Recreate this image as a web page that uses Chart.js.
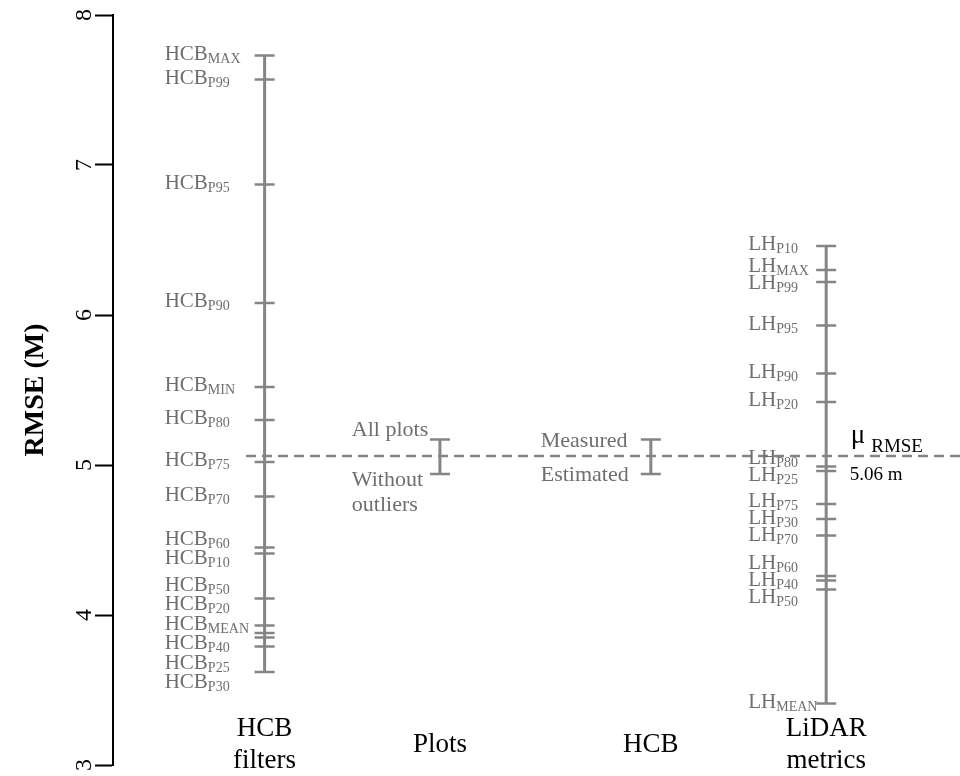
<!DOCTYPE html>
<html><head><meta charset="utf-8">
<script src="https://cdn.jsdelivr.net/npm/chart.js@4.4.1/dist/chart.umd.min.js"></script>
<style>html,body{margin:0;padding:0;background:#fff;overflow:hidden;} #wrap{width:960px;height:776px;position:relative;} canvas{display:block;}</style>
</head><body><div id="wrap"><canvas id="c"></canvas></div>
<script>
// ---------- DATA ----------
const categories = [['HCB', 'filters'], ['Plots'], ['HCB'], ['LiDAR', 'metrics']];
const hcbFilterNames = ['MAX', 'P99', 'P95', 'P90', 'MIN', 'P80', 'P75', 'P70', 'P60', 'P10', 'P50', 'P20', 'MEAN', 'P40', 'P25', 'P30'];
const hcbFilterRmse  = [7.73, 7.57, 6.87, 6.08, 5.52, 5.30, 5.02, 4.79, 4.45, 4.41, 4.11, 3.93, 3.88, 3.85, 3.79, 3.62];
const plotNames = [['All plots'], ['Without', 'outliers']];
const plotRmse  = [5.17, 4.94];
const hcbSourceNames = [['Measured'], ['Estimated']];
const hcbSourceRmse  = [5.17, 4.94];
const lidarNames = ['P10', 'MAX', 'P99', 'P95', 'P90', 'P20', 'P80', 'P25', 'P75', 'P30', 'P70', 'P60', 'P40', 'P50', 'MEAN'];
const lidarRmse  = [6.46, 6.30, 6.22, 5.93, 5.61, 5.42, 4.99, 4.96, 4.74, 4.64, 4.53, 4.26, 4.23, 4.17, 3.41];
const meanRmse = 5.06;
const meanSymbol = 'μ';
const meanSub = 'RMSE';
const meanText = '5.06 m';
const yTicks = [3, 4, 5, 6, 7, 8];
const yTitle = 'RMSE (M)';

// ---------- LAYOUT (x in scale units 0..100) ----------
const SERIF = '"Liberation Serif", "DejaVu Serif", serif';
const LINE_GRAY = '#858585';
const TEXT_GRAY = '#6e6e6e';
const columnX = [17.9, 38.6, 63.5, 84.2];
const labelStartX = [6.1, 28.2, 50.5, 75.0];
const meanLineStartX = 15.7;
const meanLabelX = 87.1;

const columns = [
  { names: hcbFilterNames, values: hcbFilterRmse, prefix: 'HCB', mode: 'sub', gap: 19.5 },
  { names: plotNames, values: plotRmse, mode: 'split' },
  { names: hcbSourceNames, values: hcbSourceRmse, mode: 'plain', gap: 19.5 },
  { names: lidarNames, values: lidarRmse, prefix: 'LH', mode: 'sub', gap: 17 }
];

function repel(desired, gap) {
  let clusters = desired.map((d, i) => ({ idx: [i], mean: d }));
  let changed = true;
  while (changed) {
    changed = false;
    for (let i = 0; i < clusters.length - 1; i++) {
      const a = clusters[i], b = clusters[i + 1];
      const aEnd = a.mean + (a.idx.length - 1) * gap / 2;
      const bStart = b.mean - (b.idx.length - 1) * gap / 2;
      if (bStart - aEnd < gap) {
        const idx = a.idx.concat(b.idx);
        const mean = idx.reduce((s, j) => s + desired[j], 0) / idx.length;
        clusters.splice(i, 2, { idx, mean });
        changed = true; break;
      }
    }
  }
  const out = [];
  clusters.forEach(c => c.idx.forEach((j, k) => { out[j] = c.mean - (c.idx.length - 1) * gap / 2 + k * gap; }));
  return out;
}

const labelPlugin = {
  id: 'labels',
  afterDatasetsDraw(chart) {
    const ctx = chart.ctx, xs = chart.scales.x, ys = chart.scales.y, area = chart.chartArea;
    ctx.save();
    columns.forEach((col, ci) => {
      const lx = xs.getPixelForValue(labelStartX[ci]);
      const order = col.values.map((v, i) => i).sort((a, b) => col.values[b] - col.values[a]);
      ctx.textAlign = 'left';
      ctx.textBaseline = 'alphabetic';
      ctx.fillStyle = TEXT_GRAY;
      if (col.mode === 'split') {
        order.forEach((i, k) => {
          const py = ys.getPixelForValue(col.values[i]);
          ctx.font = `22px ${SERIF}`;
          const lines = col.names[i];
          if (k === 0) {
            lines.forEach((t, li) => ctx.fillText(t, lx, py - 4 - (lines.length - 1 - li) * 25));
          } else {
            lines.forEach((t, li) => ctx.fillText(t, lx, py + 12 + li * 25));
          }
        });
        return;
      }
      const desired = order.map(i => ys.getPixelForValue(col.values[i]) - (col.mode === 'sub' ? 3 : 0));
      const placed = repel(desired, col.gap);
      order.forEach((i, k) => {
        const y = placed[k];
        if (col.mode === 'sub') {
          ctx.font = `21px ${SERIF}`;
          ctx.fillText(col.prefix, lx, y + 7);
          const w = ctx.measureText(col.prefix).width;
          ctx.font = `14px ${SERIF}`;
          ctx.fillText(col.names[i], lx + w, y + 10);
        } else {
          ctx.font = `22px ${SERIF}`;
          ctx.fillText(col.names[i][0], lx, y + 7);
        }
      });
    });
    ctx.fillStyle = '#000';
    ctx.textAlign = 'center';
    ctx.textBaseline = 'alphabetic';
    ctx.font = `27px ${SERIF}`;
    categories.forEach((lines, ci) => {
      const cx = xs.getPixelForValue(columnX[ci]);
      if (lines.length === 1) {
        ctx.fillText(lines[0], cx, area.bottom - 13);
      } else {
        ctx.fillText(lines[0], cx, area.bottom - 29);
        ctx.fillText(lines[1], cx, area.bottom + 3);
      }
    });
    const my = ys.getPixelForValue(meanRmse);
    const mx = xs.getPixelForValue(meanLabelX);
    ctx.textAlign = 'left';
    ctx.font = `27px ${SERIF}`;
    ctx.fillText(meanSymbol, mx, my - 13);
    const mw = ctx.measureText(meanSymbol).width;
    ctx.font = `19px ${SERIF}`;
    ctx.fillText(meanSub, mx + mw + 6, my - 4);
    ctx.fillText(meanText, mx - 1, my + 24);
    ctx.restore();
  }
};

const datasets = columns.map((col, ci) => ({
  data: col.values.slice().sort((a, b) => b - a).map(v => ({ x: columnX[ci], y: v })),
  showLine: true,
  borderColor: LINE_GRAY,
  borderWidth: 3,
  pointStyle: 'line',
  pointRadius: 10,
  pointBorderWidth: 2.5,
  pointBorderColor: LINE_GRAY,
  pointBackgroundColor: LINE_GRAY,
  clip: false
}));
datasets.push({
  data: [{ x: meanLineStartX, y: meanRmse }, { x: 100, y: meanRmse }],
  showLine: true,
  borderColor: LINE_GRAY,
  borderWidth: 2.5,
  borderDash: [10, 6],
  pointRadius: 0,
  clip: false
});

const zeroPad = s => { s.paddingLeft = 0; s.paddingRight = 0; s.paddingTop = 0; s.paddingBottom = 0; };

new Chart(document.getElementById('c'), {
  type: 'scatter',
  data: { datasets },
  options: {
    responsive: true,
    maintainAspectRatio: false,
    animation: false,
    events: [],
    layout: { autoPadding: false, padding: { top: 15, bottom: 11, left: 0, right: 0 } },
    plugins: { legend: { display: false }, tooltip: { enabled: false } },
    scales: {
      x: { type: 'linear', min: 0, max: 100, display: false, afterFit: s => { zeroPad(s); s.height = 0; } },
      y: {
        type: 'linear', min: 3, max: 8,
        afterBuildTicks: s => { s.ticks = yTicks.map(v => ({ value: v })); },
        afterFit: s => { s.width = 113; zeroPad(s); },
        border: { display: true, color: '#000', width: 2 },
        grid: { display: true, drawOnChartArea: false, drawTicks: true, tickLength: 18, tickColor: '#000', tickWidth: 2 },
        ticks: { color: '#000', font: { family: SERIF, size: 24 }, minRotation: 90, maxRotation: 90, crossAlign: 'center', padding: 4 },
        title: { display: true, text: yTitle, color: '#000', font: { family: SERIF, size: 28, weight: 'bold' }, padding: { top: 19, bottom: 0 } }
      }
    }
  },
  plugins: [labelPlugin]
});
</script></body></html>
